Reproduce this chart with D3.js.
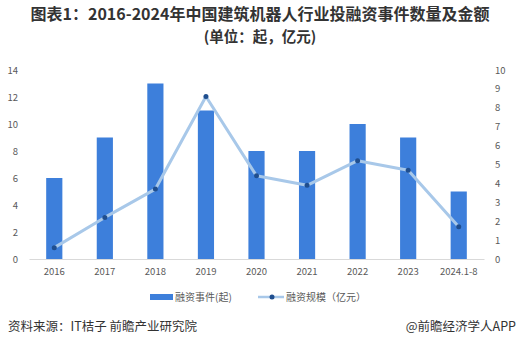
<!DOCTYPE html>
<html><head><meta charset="utf-8">
<script src="https://cdn.jsdelivr.net/npm/d3@7/dist/d3.min.js"></script>
<style>body{margin:0;background:#fff;} svg{display:block;}</style>
</head><body>
<svg id="c" width="519" height="346"></svg>
<script>
const categories = ["2016","2017","2018","2019","2020","2021","2022","2023","2024.1-8"];
const events = [6, 9, 13, 11, 8, 8, 10, 9, 5];
const amounts = [0.6, 2.2, 3.7, 8.6, 4.4, 3.9, 5.2, 4.7, 1.7];
const leftTicks = [0,2,4,6,8,10,12,14];
const rightTicks = [0,1,2,3,4,5,6,7,8,9,10];

const svg = d3.select("#c");
const font = "'Microsoft YaHei','Noto Sans CJK SC',sans-serif";
const x0 = 29, x1 = 484, yTop = 70, yBot = 259;

const x = d3.scaleBand().domain(categories).range([x0, x1]).paddingInner(0.68).paddingOuter(0.34);
const yL = d3.scaleLinear().domain([0,14]).range([yBot, yTop]);
const yR = d3.scaleLinear().domain([0,10]).range([yBot, yTop]);

// title
svg.append("text").attr("x", 260).attr("y", 20).attr("text-anchor","middle")
  .attr("font-family", font).attr("font-weight","bold").attr("font-size",16).attr("fill","#333")
  .text("图表1：2016-2024年中国建筑机器人行业投融资事件数量及金额");
svg.append("text").attr("x", 260).attr("y", 42).attr("text-anchor","middle")
  .attr("font-family", font).attr("font-weight","bold").attr("font-size",14.5).attr("fill","#333")
  .text("(单位：起，亿元)");

// axes
const gL = svg.append("g").attr("transform",`translate(${x0},0)`)
  .call(d3.axisLeft(yL).tickValues(leftTicks).tickSize(0).tickPadding(11));
const gR = svg.append("g").attr("transform",`translate(${x1},0)`)
  .call(d3.axisRight(yR).tickValues(rightTicks).tickSize(0).tickPadding(11));
[gL,gR].forEach(g=>{
  g.select(".domain").remove();
  g.selectAll("text").attr("font-family",font).attr("font-size",9.5).attr("fill","#595959");
});

// bars
svg.append("g").selectAll("rect").data(events).join("rect")
  .attr("x",(d,i)=>x(categories[i])).attr("width",x.bandwidth())
  .attr("y",d=>yL(d)).attr("height",d=>yL(0)-yL(d)).attr("fill","#3d7fdb");

const gX = svg.append("g").attr("transform",`translate(0,${yBot})`)
  .call(d3.axisBottom(x).tickSize(0).tickPadding(9));
gX.select(".domain").attr("stroke","#d9d9d9");
gX.selectAll("text").attr("font-family",font).attr("font-size",9.5).attr("fill","#595959");

// line
const line = d3.line().x((d,i)=>x(categories[i])+x.bandwidth()/2).y(d=>yR(d));
svg.append("path").datum(amounts).attr("d",line).attr("fill","none")
  .attr("stroke","#a8c8e9").attr("stroke-width",3).attr("stroke-linejoin","round");
svg.append("g").selectAll("circle").data(amounts).join("circle")
  .attr("cx",(d,i)=>x(categories[i])+x.bandwidth()/2).attr("cy",d=>yR(d)).attr("r",2.5)
  .attr("fill","#1f4e8f");

// legend
const lg = svg.append("g");
lg.append("rect").attr("x",150).attr("y",294).attr("width",23).attr("height",6).attr("fill","#3d7fdb");
lg.append("text").attr("x",175).attr("y",301).attr("font-family",font).attr("font-size",10).attr("fill","#595959").text("融资事件(起)");
lg.append("line").attr("x1",258).attr("x2",284).attr("y1",297).attr("y2",297).attr("stroke","#a8c8e9").attr("stroke-width",2.5);
lg.append("circle").attr("cx",272).attr("cy",297).attr("r",2.5).attr("fill","#1f4e8f");
lg.append("text").attr("x",286).attr("y",301).attr("font-family",font).attr("font-size",10).attr("fill","#595959").text("融资规模（亿元）");

// footer
svg.append("text").attr("x",8).attr("y",331).attr("font-family",font).attr("font-size",12.5).attr("fill","#333")
  .text("资料来源：IT桔子 前瞻产业研究院");
svg.append("text").attr("x",516).attr("y",331).attr("text-anchor","end").attr("font-family",font).attr("font-size",12.5).attr("fill","#333")
  .text("@前瞻经济学人APP");
</script>
</body></html>
